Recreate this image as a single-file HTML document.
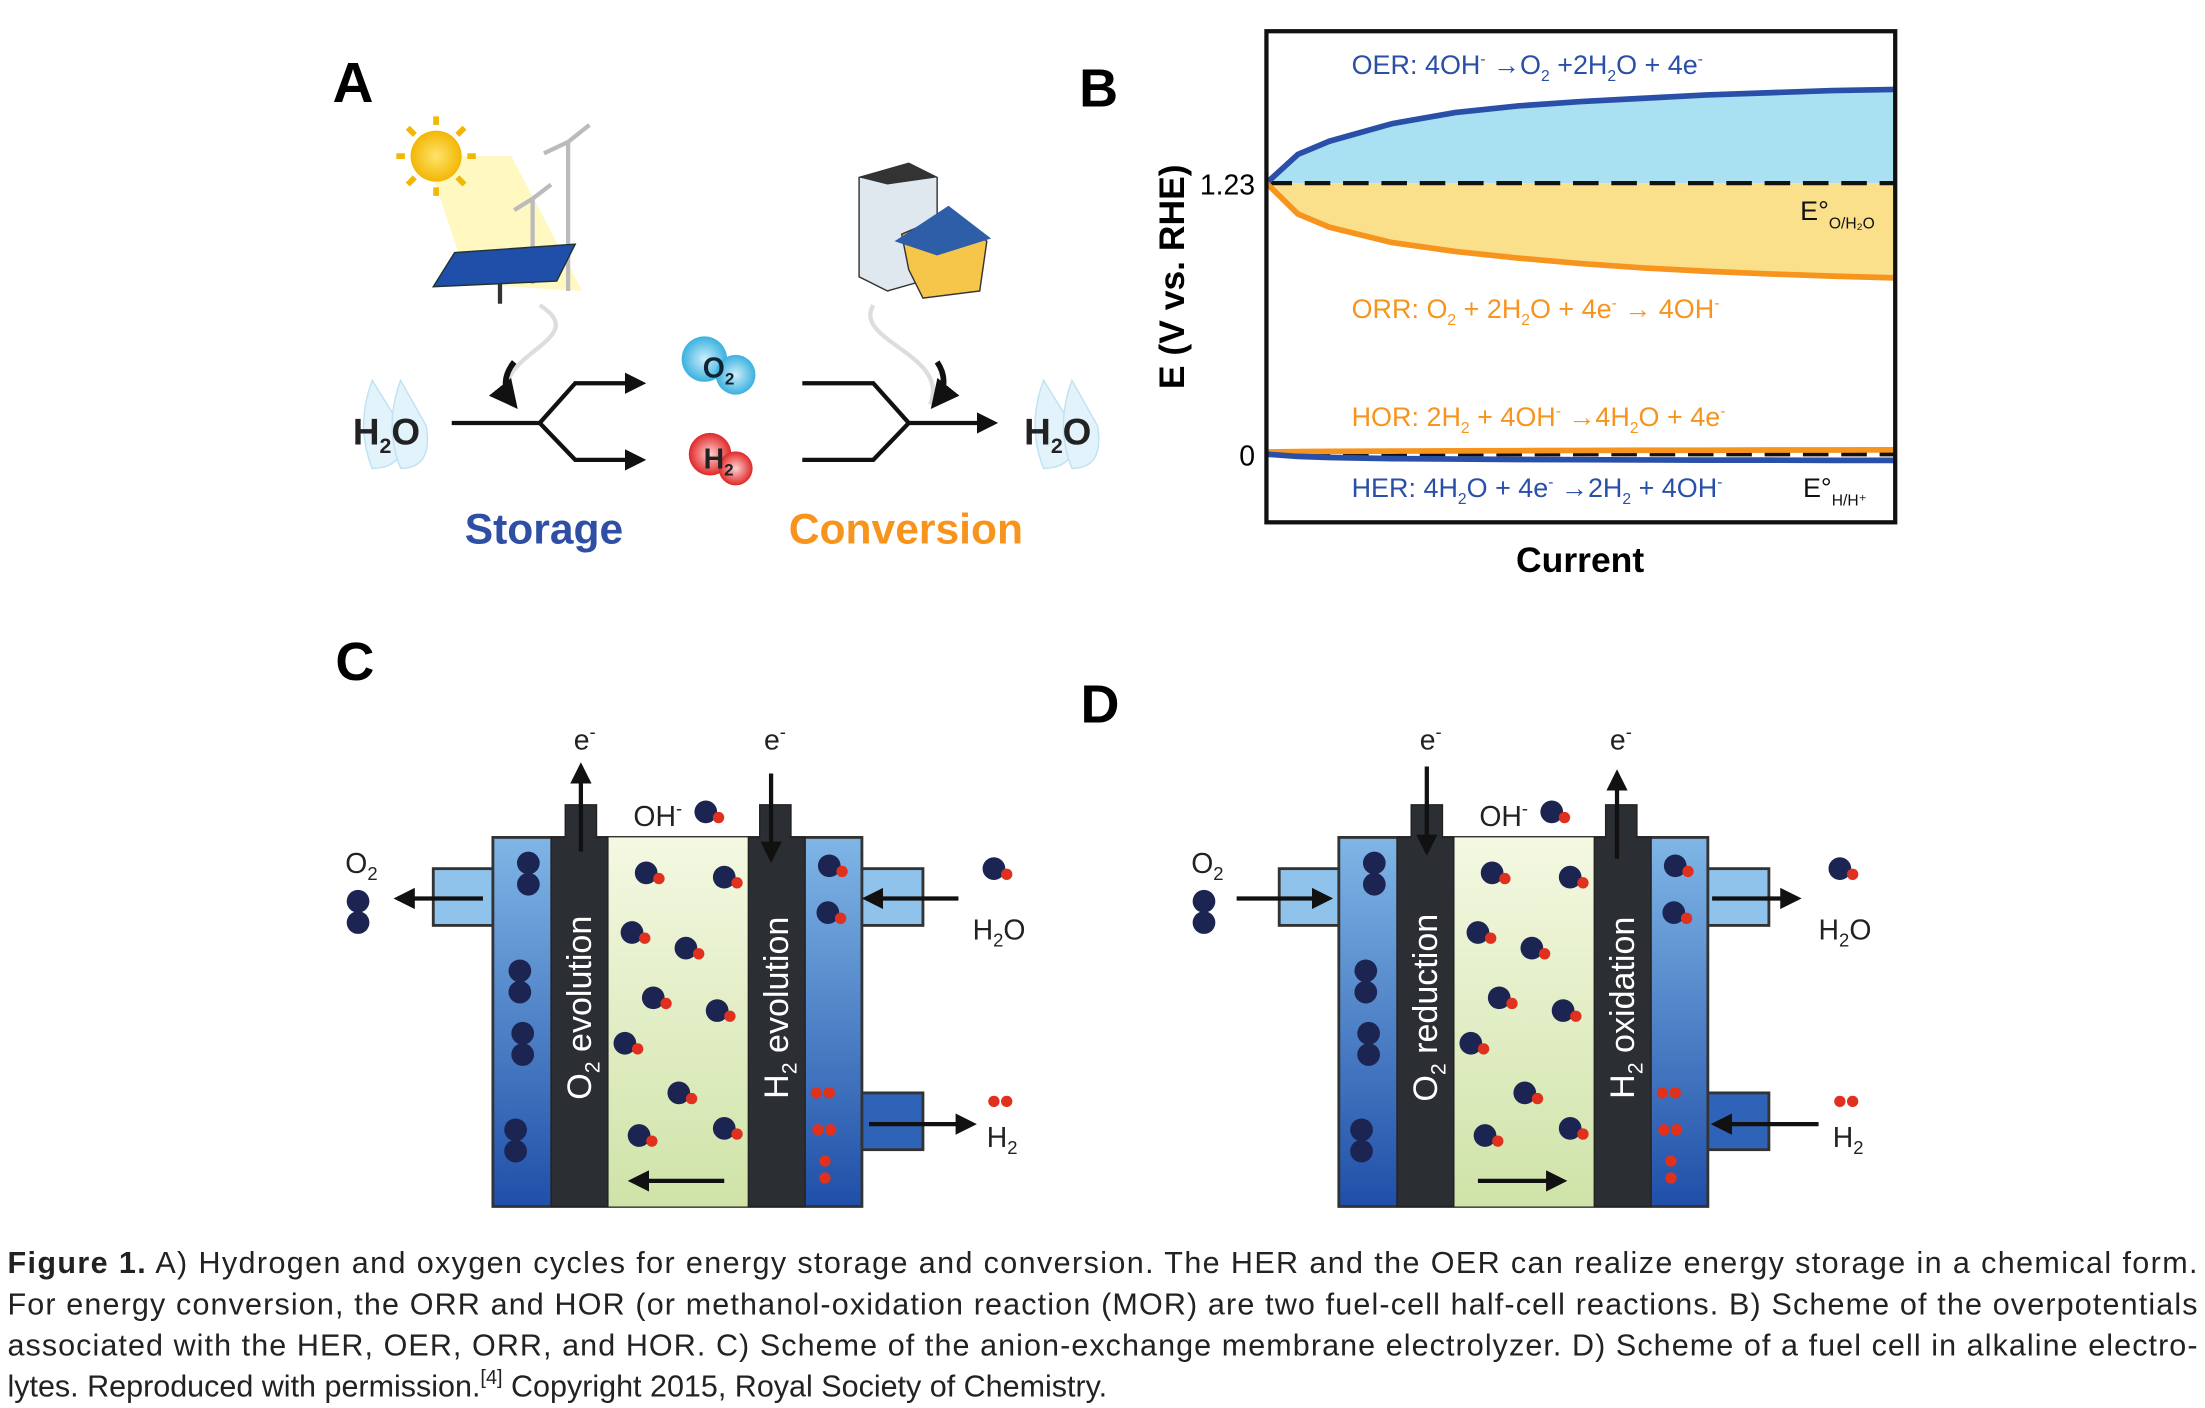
<!DOCTYPE html>
<html><head><meta charset="utf-8">
<style>
html,body{margin:0;padding:0;background:#fff;}
svg{display:block;font-family:"Liberation Sans",sans-serif;}
</style></head>
<body>
<svg id="fig" width="2205" height="1408" viewBox="0 0 1553 992" xmlns="http://www.w3.org/2000/svg">
<defs>
<marker id="ah" viewBox="0 0 10 10" refX="8" refY="5" markerWidth="5" markerHeight="5" orient="auto"><path d="M0,0 L10,5 L0,10 z" fill="#111"/></marker>
<linearGradient id="cellg" x1="0" y1="0" x2="0" y2="1"><stop offset="0" stop-color="#7fb6e6"/><stop offset="1" stop-color="#1f4fa8"/></linearGradient>
<linearGradient id="memg" x1="0" y1="0" x2="0" y2="1"><stop offset="0" stop-color="#f4f8e2"/><stop offset="1" stop-color="#cfe3a8"/></linearGradient>
<radialGradient id="o2g"><stop offset="0" stop-color="#cdeefa"/><stop offset="1" stop-color="#3ab1e0"/></radialGradient>
<radialGradient id="h2g"><stop offset="0" stop-color="#ffd0d0"/><stop offset="1" stop-color="#e02828"/></radialGradient>
<radialGradient id="sung"><stop offset="0" stop-color="#ffe46b"/><stop offset="1" stop-color="#f2b705"/></radialGradient>
</defs>

<!-- Panel A -->
<g>
<text x="234" y="72" font-size="40" font-weight="bold">A</text>
<polygon points="300,110 330,200 410,205 360,110" fill="#fff6b0" opacity="0.8"/>
<circle cx="307" cy="110" r="18" fill="url(#sung)"/>
<g stroke="#f2b705" stroke-width="4">
<line x1="307" y1="82" x2="307" y2="88"/><line x1="307" y1="132" x2="307" y2="138"/><line x1="279" y1="110" x2="285" y2="110"/><line x1="329" y1="110" x2="335" y2="110"/>
<line x1="287" y1="90" x2="292" y2="95"/><line x1="322" y1="125" x2="327" y2="130"/><line x1="287" y1="130" x2="292" y2="125"/><line x1="322" y1="95" x2="327" y2="90"/></g>
<g stroke="#bbb" stroke-width="3">
<line x1="400" y1="100" x2="400" y2="205"/><line x1="400" y1="100" x2="415" y2="88"/><line x1="400" y1="100" x2="383" y2="108"/>
<line x1="375" y1="140" x2="375" y2="200"/><line x1="375" y1="140" x2="388" y2="130"/><line x1="375" y1="140" x2="362" y2="148"/></g>
<polygon points="320,178 405,172 392,198 305,202" fill="#1f4fa8" stroke="#233"/>
<line x1="352" y1="200" x2="352" y2="214" stroke="#333" stroke-width="3"/>
<g>
<polygon points="605,125 640,115 660,125 660,195 625,205 605,195" fill="#dfe8ee" stroke="#333"/>
<polygon points="605,125 640,115 660,125 625,130" fill="#333"/>
<polygon points="635,165 670,150 695,170 690,205 650,210 640,190" fill="#f6c64a" stroke="#333"/>
<polygon points="630,170 668,145 698,168 660,180" fill="#2e5ea8"/>
</g>
<path d="M380,215 C420,240 340,250 360,285" fill="none" stroke="#ddd" stroke-width="3"/>
<path d="M615,215 C600,240 670,250 655,285" fill="none" stroke="#ddd" stroke-width="3"/>
<path d="M362,255 Q350,270 362,285" fill="none" stroke="#111" stroke-width="4" marker-end="url(#ah)"/>
<path d="M660,255 Q670,270 658,285" fill="none" stroke="#111" stroke-width="4" marker-end="url(#ah)"/>
<g><path d="M262,268 Q250,300 262,330 Q285,330 285,305 Z" fill="#e3f3fb" stroke="#bfe2f2"/><path d="M282,268 Q270,300 282,330 Q305,330 300,300 Z" fill="#e3f3fb" stroke="#bfe2f2"/>
<text x="272" y="313" font-size="26" font-weight="bold" text-anchor="middle" fill="#222">H<tspan font-size="15" dy="6">2</tspan><tspan dy="-6">O</tspan></text></g>
<g><path d="M735,268 Q723,300 735,330 Q758,330 758,305 Z" fill="#e3f3fb" stroke="#bfe2f2"/><path d="M755,268 Q743,300 755,330 Q778,330 773,300 Z" fill="#e3f3fb" stroke="#bfe2f2"/>
<text x="745" y="313" font-size="26" font-weight="bold" text-anchor="middle" fill="#222">H<tspan font-size="15" dy="6">2</tspan><tspan dy="-6">O</tspan></text></g>
<g stroke="#111" stroke-width="3" fill="none">
<path d="M318,298 L380,298 L405,270 L452,270" marker-end="url(#ah)"/><path d="M380,298 L405,324 L452,324" marker-end="url(#ah)"/></g>
<g stroke="#111" stroke-width="3" fill="none">
<path d="M565,270 L615,270 L640,298 L700,298" marker-end="url(#ah)"/><path d="M565,324 L615,324 L640,298"/></g>
<g><circle cx="496" cy="253" r="16" fill="url(#o2g)"/><circle cx="518" cy="264" r="14" fill="url(#o2g)"/>
<text x="506" y="266" font-size="20" font-weight="bold" text-anchor="middle" fill="#123">O<tspan font-size="12" dy="5">2</tspan></text></g>
<g><circle cx="500" cy="320" r="15" fill="url(#h2g)"/><circle cx="518" cy="330" r="12" fill="url(#h2g)"/>
<text x="506" y="330" font-size="20" font-weight="bold" text-anchor="middle" fill="#222">H<tspan font-size="12" dy="5">2</tspan></text></g>
<text x="383" y="383" font-size="30" font-weight="bold" fill="#2e4fa3" text-anchor="middle">Storage</text>
<text x="638" y="383" font-size="30" font-weight="bold" fill="#f7941d" text-anchor="middle">Conversion</text>
</g>

<!-- Panel B -->
<g id="panelB">
<text x="760" y="75" font-size="38" font-weight="bold">B</text>
<text transform="translate(834,195) rotate(-90)" font-size="25" font-weight="bold" text-anchor="middle">E (V vs. RHE)</text>
<text x="1113" y="403" font-size="25" font-weight="bold" text-anchor="middle">Current</text>
</g>

<!-- Panels C & D -->
<g id="cells"></g>
<text x="236" y="479" font-size="38" font-weight="bold">C</text>
<text x="761" y="509" font-size="38" font-weight="bold">D</text>

<!-- Caption -->
<g font-size="21.5" fill="#222">
<text x="5" y="897" textLength="1543" lengthAdjust="spacing"><tspan font-weight="bold">Figure 1.</tspan> A) Hydrogen and oxygen cycles for energy storage and conversion. The HER and the OER can realize energy storage in a chemical form.</text>
<text x="5" y="926" textLength="1543" lengthAdjust="spacing">For energy conversion, the ORR and HOR (or methanol-oxidation reaction (MOR) are two fuel-cell half-cell reactions. B) Scheme of the overpotentials</text>
<text x="5" y="955" textLength="1543" lengthAdjust="spacing">associated with the HER, OER, ORR, and HOR. C) Scheme of the anion-exchange membrane electrolyzer. D) Scheme of a fuel cell in alkaline electro-</text>
<text x="5" y="984">lytes. Reproduced with permission.<tspan font-size="14" dy="-9">[4]</tspan><tspan dy="9"> Copyright 2015, Royal Society of Chemistry.</tspan></text>
</g>
</svg>
<script>
const NS="http://www.w3.org/2000/svg";
// Panel B data (schematic, current in arbitrary units 0..1, potential V)
const currents=[0,0.05,0.1,0.2,0.3,0.4,0.5,0.6,0.7,0.8,0.9,1.0];
const oerPotential=[1.23,1.36,1.42,1.50,1.55,1.58,1.60,1.615,1.63,1.64,1.65,1.655];
const orrPotential=[1.23,1.09,1.03,0.96,0.92,0.89,0.865,0.845,0.83,0.818,0.808,0.80];
const horPotential=[0.01,0.012,0.013,0.014,0.015,0.016,0.017,0.018,0.018,0.019,0.019,0.02];
const herPotential=[0,-0.01,-0.015,-0.02,-0.022,-0.024,-0.025,-0.026,-0.027,-0.027,-0.028,-0.028];
const yTicks=[0,1.23];
const yTickLabels=["0","1.23"];
const X0=892,X1=1335,Y0=22,Y1=368;
const xs=c=>X0+c*(X1-X0);
const ys=v=>320-v*(320-129)/1.23;
const B=document.getElementById('panelB');
function mk(tag,attrs,parent){const e=document.createElementNS(NS,tag);for(const k in attrs)e.setAttribute(k,attrs[k]);(parent||B).appendChild(e);return e;}
const line=(arr)=>currents.map((c,i)=>(i?'L':'M')+xs(c)+','+ys(arr[i])).join(' ');
let e;
e=mk('path',{d:line(oerPotential)+' L'+xs(1)+','+ys(1.23)+' Z',fill:'#a9e0f2'});


e=mk('path',{d:line(orrPotential)+' L'+xs(1)+','+ys(1.23)+' Z',fill:'#fbe08c'});


yTicks.forEach((t,i)=>{
 e=mk('line',{x1:X0,x2:X1,y1:ys(t),y2:ys(t),stroke:'#111','stroke-width':3,'stroke-dasharray':'18,9'});
 
 
 e=mk('text',{x:X0-8,y:ys(t)+8,'font-size':20,'text-anchor':'end'});e.textContent=yTickLabels[i];
 
 
});
[[oerPotential,'#2a4fa8','oer-curve'],[orrPotential,'#f7941d','orr-curve'],[horPotential,'#f7941d','hor-curve'],[herPotential,'#2a4fa8','her-curve']].forEach(s=>{
 e=mk('path',{d:line(s[0]),fill:'none',stroke:s[1],'stroke-width':4});
 
 
});
e=mk('rect',{x:X0,y:Y0,width:X1-X0,height:Y1-Y0,fill:'none',stroke:'#111','stroke-width':3});


const labels=[[952,52,'#2a4fa8','OER: 4OH<tspan dy="-7" font-size="11">-</tspan><tspan dy="7"> →O</tspan><tspan dy="5" font-size="11">2</tspan><tspan dy="-5"> +2H</tspan><tspan dy="5" font-size="11">2</tspan><tspan dy="-5">O + 4e</tspan><tspan dy="-7" font-size="11">-</tspan>','oer-label'],
[952,224,'#f7941d','ORR: O<tspan dy="5" font-size="11">2</tspan><tspan dy="-5"> + 2H</tspan><tspan dy="5" font-size="11">2</tspan><tspan dy="-5">O + 4e</tspan><tspan dy="-7" font-size="11">-</tspan><tspan dy="7"> → 4OH</tspan><tspan dy="-7" font-size="11">-</tspan>','orr-label'],
[952,300,'#f7941d','HOR: 2H<tspan dy="5" font-size="11">2</tspan><tspan dy="-5"> + 4OH</tspan><tspan dy="-7" font-size="11">-</tspan><tspan dy="7"> →4H</tspan><tspan dy="5" font-size="11">2</tspan><tspan dy="-5">O + 4e</tspan><tspan dy="-7" font-size="11">-</tspan>','hor-label'],
[952,350,'#2a4fa8','HER: 4H<tspan dy="5" font-size="11">2</tspan><tspan dy="-5">O + 4e</tspan><tspan dy="-7" font-size="11">-</tspan><tspan dy="7"> →2H</tspan><tspan dy="5" font-size="11">2</tspan><tspan dy="-5"> + 4OH</tspan><tspan dy="-7" font-size="11">-</tspan>','her-label'],
[1268,155,'#111','E°<tspan dy="6" font-size="11">O/H₂O</tspan>','e-o2-label'],
[1270,350,'#111','E°<tspan dy="6" font-size="11">H/H⁺</tspan>','e-h2-label']];
labels.forEach(l=>{e=mk('text',{x:l[0],y:l[1],fill:l[2],'font-size':19});e.innerHTML=l[3];
 
 });

// Cells
const C=document.getElementById('cells');
function cell(ox,mode){
 const g=mk('g',{},C);
 
 
 const bl='url(#cellg)';
 mk('rect',{x:ox+305,y:612,width:50,height:40,fill:'#8fc3ec',stroke:'#333','stroke-width':2},g);
 mk('rect',{x:ox+600,y:612,width:50,height:40,fill:'#8fc3ec',stroke:'#333','stroke-width':2},g);
 mk('rect',{x:ox+600,y:770,width:50,height:40,fill:'#2f63b8',stroke:'#333','stroke-width':2},g);
 mk('rect',{x:ox+347,y:590,width:260,height:260,fill:bl,stroke:'#333','stroke-width':2},g);
 mk('rect',{x:ox+428,y:590,width:99,height:260,fill:'url(#memg)'},g);
 mk('path',{d:`M${ox+388},850 V590 H${ox+398} V567 H${ox+420} V590 H${ox+428} V850 Z`,fill:'#2b2f33',stroke:'#222'},g);
 mk('path',{d:`M${ox+527},850 V590 H${ox+535} V567 H${ox+557} V590 H${ox+567} V850 Z`,fill:'#2b2f33',stroke:'#222'},g);
 const t1=mk('text',{transform:`translate(${ox+416},710) rotate(-90)`,'font-size':24,fill:'#fff','text-anchor':'middle'},g);
 const t2=mk('text',{transform:`translate(${ox+555},710) rotate(-90)`,'font-size':24,fill:'#fff','text-anchor':'middle'},g);
 if(mode==='ec'){t1.innerHTML='O<tspan font-size="15" dy="6">2</tspan><tspan dy="-6"> evolution</tspan>';t2.innerHTML='H<tspan font-size="15" dy="6">2</tspan><tspan dy="-6"> evolution</tspan>';}
 else{t1.innerHTML='O<tspan font-size="15" dy="6">2</tspan><tspan dy="-6"> reduction</tspan>';t2.innerHTML='H<tspan font-size="15" dy="6">2</tspan><tspan dy="-6"> oxidation</tspan>';}
 const A=(x1,y1,x2,y2)=>mk('line',{x1,y1,x2,y2,stroke:'#111','stroke-width':3,'marker-end':'url(#ah)'},g);
 const T=(x,y,h,s)=>{const t=mk('text',{x,y,'font-size':20,fill:'#222'},g);t.innerHTML=h;return t;};
 if(mode==='ec'){A(ox+409,600,ox+409,540);A(ox+543,545,ox+543,605);A(ox+340,633,ox+280,633);A(ox+675,633,ox+610,633);A(ox+612,792,ox+685,792);A(ox+510,832,ox+445,832);
  T(ox+243,615,'O<tspan font-size="13" dy="5">2</tspan>');T(ox+685,662,'H<tspan font-size="13" dy="5">2</tspan><tspan dy="-5">O</tspan>');T(ox+695,808,'H<tspan font-size="13" dy="5">2</tspan>');}
 else{A(ox+409,540,ox+409,600);A(ox+543,605,ox+543,545);A(ox+275,633,ox+340,633);A(ox+610,633,ox+670,633);A(ox+685,792,ox+612,792);A(ox+445,832,ox+505,832);
  T(ox+243,615,'O<tspan font-size="13" dy="5">2</tspan>');T(ox+685,662,'H<tspan font-size="13" dy="5">2</tspan><tspan dy="-5">O</tspan>');T(ox+695,808,'H<tspan font-size="13" dy="5">2</tspan>');}
 T(ox+404,528,'e<tspan font-size="13" dy="-8">-</tspan>');T(ox+538,528,'e<tspan font-size="13" dy="-8">-</tspan>');
 T(ox+446,582,'OH<tspan font-size="13" dy="-8">-</tspan>');
 const mol=(x,y)=>{mk('circle',{cx:x,cy:y,r:8,fill:'#1c2452'},g);mk('circle',{cx:x+9,cy:y+4,r:4,fill:'#e0301e'},g);};
 const o2=(x,y)=>{mk('circle',{cx:x,cy:y,r:8,fill:'#1c2452'},g);mk('circle',{cx:x,cy:y+15,r:8,fill:'#1c2452'},g);};
 const h2=(x,y)=>{mk('circle',{cx:x,cy:y,r:4,fill:'#e0301e'},g);mk('circle',{cx:x+9,cy:y,r:4,fill:'#e0301e'},g);};
 mol(ox+497,572);
 [[455,615],[510,618],[445,657],[483,668],[460,703],[505,712],[440,735],[478,770],[450,800],[510,795]].forEach(p=>mol(ox+p[0],p[1]));
 [[372,608],[366,684],[368,728],[363,796]].forEach(p=>o2(ox+p[0],p[1]));
 [[584,610],[583,643]].forEach(p=>mol(ox+p[0],p[1]));
 [[575,770],[576,796]].forEach(p=>h2(ox+p[0],p[1]));
 mk('circle',{cx:ox+581,cy:818,r:4,fill:'#e0301e'},g);mk('circle',{cx:ox+581,cy:830,r:4,fill:'#e0301e'},g);
 o2(ox+252,635);mol(ox+700,612);h2(ox+700,776);
}
cell(0,'ec');cell(596,'fc');
</script>
</body></html>
